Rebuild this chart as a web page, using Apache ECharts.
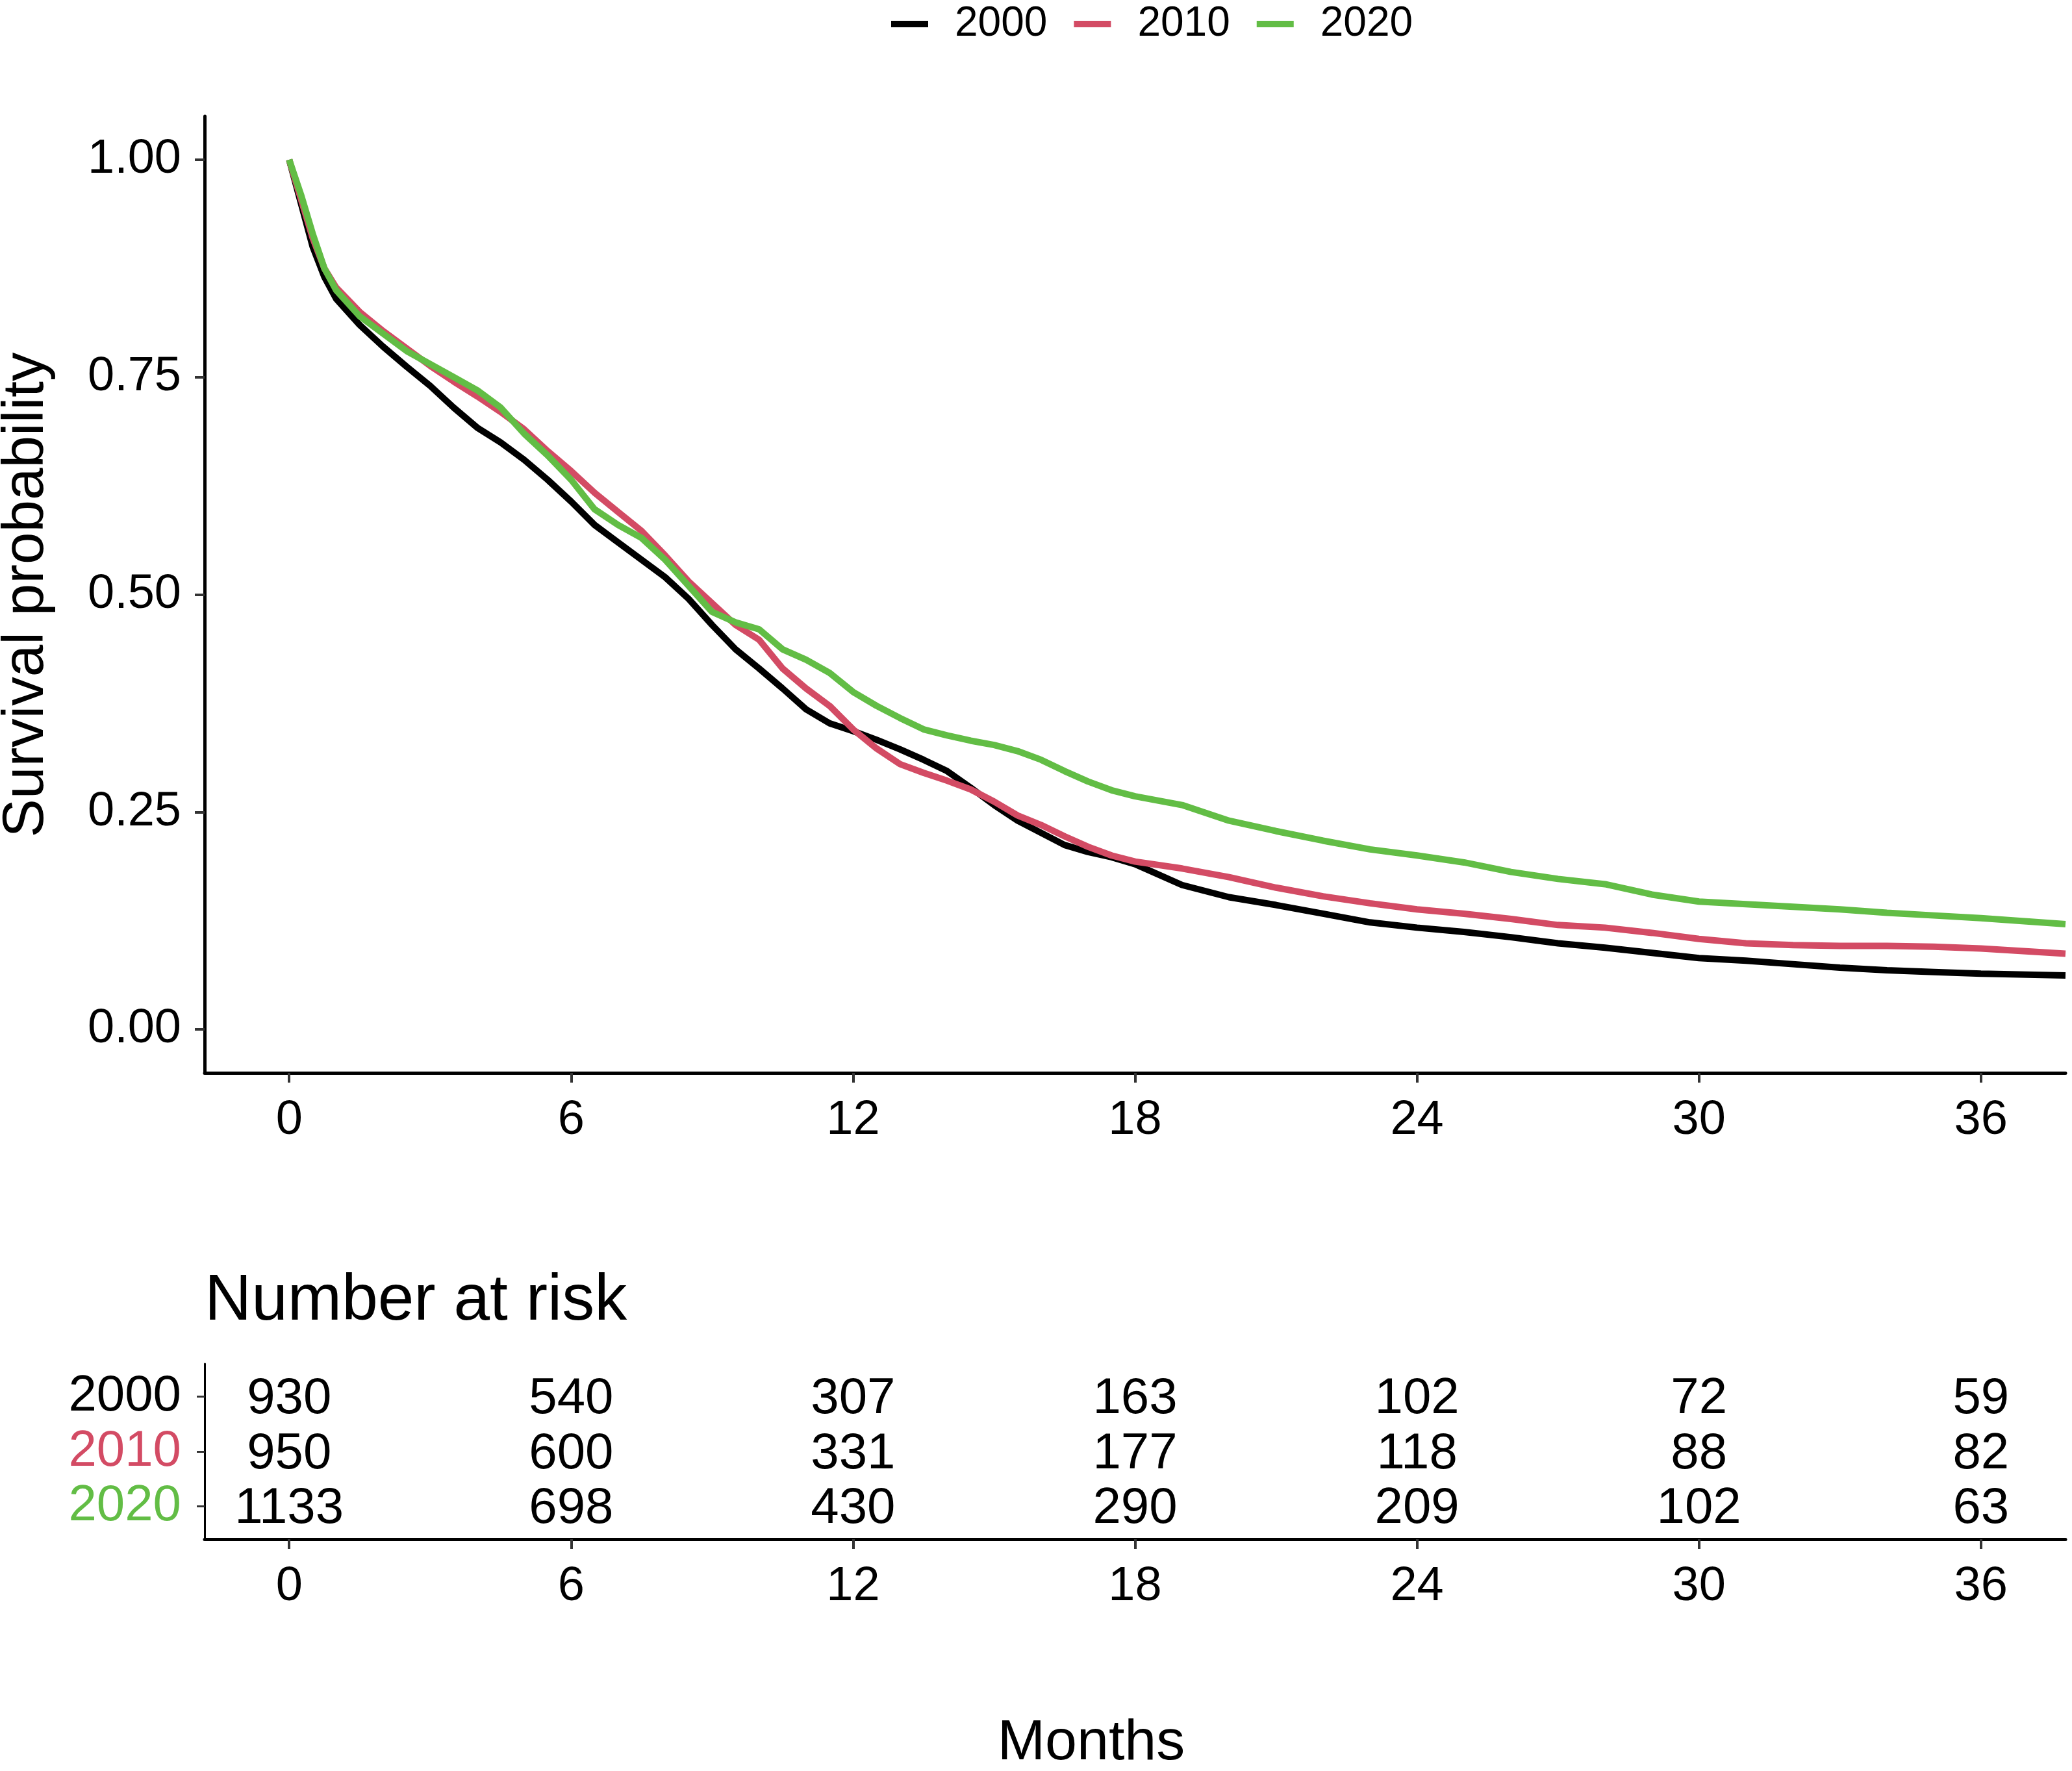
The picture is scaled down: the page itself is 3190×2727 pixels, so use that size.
<!DOCTYPE html>
<html><head><meta charset="utf-8">
<script src="https://cdn.jsdelivr.net/npm/echarts@6/dist/echarts.min.js"></script>
<style>html,body{margin:0;padding:0;background:#fff}#c{width:3190px;height:2727px}</style>
</head><body><div id="c"></div>
<script>
// ---- data ----
const groups = ['2000', '2010', '2020'];
const timeMonths = [0,0.25,0.5,0.75,1,1.5,2,2.5,3,3.5,4,4.5,5,5.5,6,6.5,7,7.5,8,8.5,9,9.5,10,10.5,11,11.5,12,12.5,13,13.5,14,14.5,15,15.5,16,16.5,17,17.5,18,19,20,21,22,23,24,25,26,27,28,29,30,31,32,33,34,35,36,37.8];
const surv2000 = [1.0,0.95,0.90,0.865,0.84,0.81,0.785,0.762,0.74,0.715,0.692,0.675,0.655,0.632,0.607,0.58,0.56,0.54,0.52,0.495,0.465,0.437,0.415,0.392,0.368,0.352,0.343,0.333,0.322,0.31,0.297,0.278,0.258,0.24,0.226,0.212,0.204,0.198,0.19,0.166,0.152,0.143,0.133,0.123,0.117,0.112,0.106,0.099,0.094,0.088,0.082,0.079,0.075,0.071,0.068,0.066,0.064,0.062];
const surv2010 = [1.0,0.955,0.91,0.875,0.853,0.825,0.803,0.783,0.763,0.745,0.728,0.71,0.69,0.665,0.642,0.617,0.595,0.573,0.545,0.515,0.49,0.465,0.448,0.415,0.392,0.372,0.345,0.323,0.305,0.295,0.286,0.276,0.262,0.246,0.235,0.222,0.21,0.2,0.193,0.185,0.175,0.163,0.153,0.145,0.138,0.133,0.127,0.12,0.117,0.111,0.104,0.099,0.097,0.096,0.096,0.095,0.093,0.087];
const surv2020 = [1.0,0.96,0.915,0.875,0.85,0.82,0.80,0.78,0.765,0.75,0.735,0.715,0.685,0.66,0.632,0.598,0.58,0.565,0.54,0.51,0.48,0.468,0.46,0.437,0.425,0.41,0.388,0.372,0.358,0.345,0.338,0.332,0.327,0.32,0.31,0.297,0.285,0.275,0.268,0.258,0.24,0.228,0.217,0.207,0.2,0.192,0.181,0.173,0.167,0.155,0.147,0.144,0.141,0.138,0.134,0.131,0.128,0.121];
const riskTimes = [0, 6, 12, 18, 24, 30, 36];
const risk2000 = [930, 540, 307, 163, 102, 72, 59];
const risk2010 = [950, 600, 331, 177, 118, 88, 82];
const risk2020 = [1133, 698, 430, 290, 209, 102, 63];
const xTickValues = [0, 6, 12, 18, 24, 30, 36];
const yTickValues = [0, 0.25, 0.5, 0.75, 1];

// ---- styles ----
const colors = ['#000000', '#D34B64', '#62BD45'];
const FONT = '"Liberation Sans", Arial, sans-serif';
const survAll = [surv2000, surv2010, surv2020];
const riskAll = [risk2000, risk2010, risk2020];

const chart = echarts.init(document.getElementById('c'), null, {renderer: 'canvas'});

function xAxisCfg(gridIndex) {
  return {
    type: 'value', gridIndex: gridIndex, min: -1.8, max: 37.8,
    axisLine: {show: true, onZero: false, lineStyle: {color: '#000', width: 5}},
    axisTick: {show: true, customValues: xTickValues, length: 15, lineStyle: {color: '#333', width: 4}},
    axisLabel: {show: true, customValues: xTickValues, fontSize: 74, color: '#000', margin: 37, fontFamily: FONT},
    splitLine: {show: false}
  };
}

const richRows = {};
groups.forEach((g, i) => { richRows['g' + i] = {color: colors[i], fontSize: 78, fontFamily: FONT}; });

const series = [];
groups.forEach((g, i) => {
  series.push({
    name: g, type: 'line', xAxisIndex: 0, yAxisIndex: 0,
    showSymbol: false, symbol: 'none',
    lineStyle: {color: colors[i], width: 10},
    itemStyle: {color: colors[i]},
    data: timeMonths.map((t, k) => [t, survAll[i][k]])
  });
});
groups.forEach((g, i) => {
  series.push({
    type: 'scatter', xAxisIndex: 1, yAxisIndex: 1,
    symbolSize: 0, itemStyle: {color: '#000000'},
    label: {show: true, position: 'inside', formatter: p => String(p.value[2]),
            fontSize: 78, color: '#000000', textBorderWidth: 0, opacity: 1,
            fontFamily: FONT, offset: [0, 4]},
    data: riskTimes.map((t, k) => [t, i + 1, riskAll[i][k]])
  });
});

const option = {
  animation: false,
  backgroundColor: '#ffffff',
  legend: {
    data: groups, left: 1367, top: 0, icon: 'rect', itemWidth: 57, itemHeight: 10, itemGap: 41,
    textStyle: {fontSize: 64, color: '#000', fontFamily: FONT, padding: [0, 0, 0, 36]}
  },
  grid: [
    {left: 315, top: 179, width: 2865, height: 1473},
    {left: 315, top: 2100, width: 2865, height: 270}
  ],
  xAxis: [xAxisCfg(0), xAxisCfg(1)],
  yAxis: [
    {
      type: 'value', gridIndex: 0, min: -0.05, max: 1.05,
      axisLine: {show: true, onZero: false, lineStyle: {color: '#000', width: 5}},
      axisTick: {show: true, customValues: yTickValues, length: 15, lineStyle: {color: '#333', width: 4}},
      axisLabel: {show: true, customValues: yTickValues, formatter: v => v.toFixed(2), fontSize: 74, color: '#000', margin: 36, fontFamily: FONT},
      splitLine: {show: false}
    },
    {
      type: 'value', gridIndex: 1, min: 0.4, max: 3.6, inverse: true,
      axisLine: {show: true, onZero: false, lineStyle: {color: '#000', width: 3}},
      axisTick: {show: true, customValues: [1, 2, 3], length: 12, lineStyle: {color: '#333', width: 3}},
      axisLabel: {show: true, customValues: [1, 2, 3], margin: 36,
                  formatter: v => { const k = Math.round(v) - 1; return '{g' + k + '|' + groups[k] + '}'; },
                  rich: richRows},
      splitLine: {show: false}
    }
  ],
  graphic: [
    {type: 'text', x: 41, y: 916, rotation: Math.PI / 2,
     style: {text: 'Survival probability', fontSize: 89, fill: '#000', fontFamily: FONT, align: 'center', verticalAlign: 'middle'}},
    {type: 'text', x: 315, y: 2004,
     style: {text: 'Number at risk', fontSize: 100, fill: '#000', fontFamily: FONT, align: 'left', verticalAlign: 'middle'}},
    {type: 'text', x: 1680, y: 2685,
     style: {text: 'Months', fontSize: 88, fill: '#000', fontFamily: FONT, align: 'center', verticalAlign: 'middle'}}
  ],
  series: series
};
chart.setOption(option);
</script></body></html>
